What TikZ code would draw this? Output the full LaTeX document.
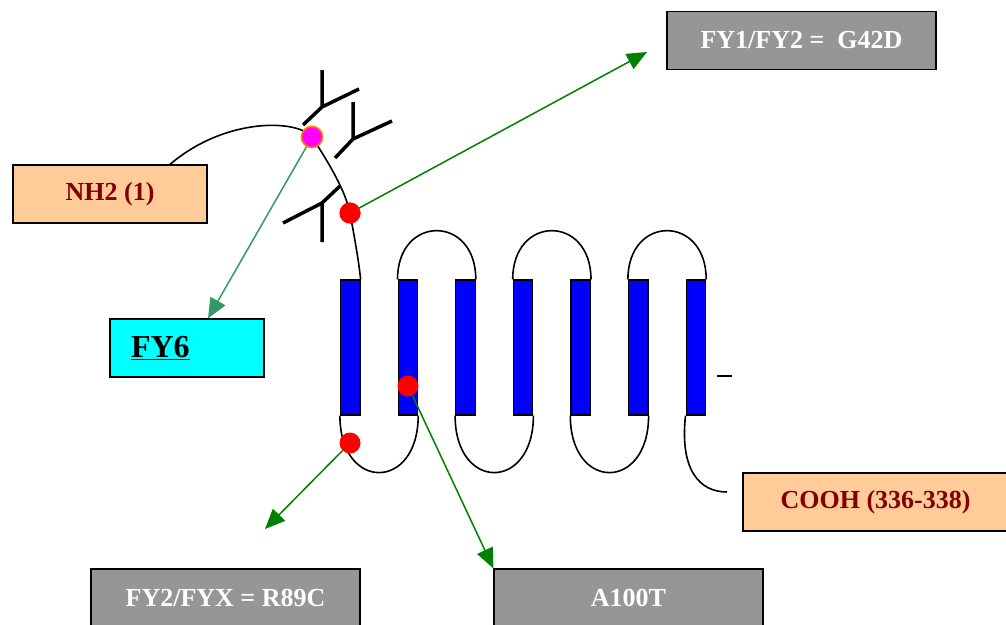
\documentclass[tikz,border=0pt]{standalone}
\usepackage{fontspec}
\setmainfont{Liberation Serif}
\usetikzlibrary{arrows.meta}
\definecolor{boxgray}{HTML}{969696}
\definecolor{peach}{HTML}{FFCC99}
\definecolor{darkred}{HTML}{800000}
\definecolor{mutgreen}{HTML}{008000}
\definecolor{seagreen}{HTML}{339966}
\definecolor{rimorange}{HTML}{FF8000}
\definecolor{aqua}{HTML}{00FFFF}
\definecolor{pink}{HTML}{FF00FF}
\definecolor{tmblue}{HTML}{0000FF}
\definecolor{sitered}{HTML}{FF0000}

\begin{document}
\begin{tikzpicture}[x=1pt, y=-1pt,
		tagbox/.style={draw, line width=1.2pt, minimum width=269pt, minimum height=58pt,
			inner sep=0pt, font=\fontsize{26}{30}\selectfont\bfseries},
		mutation/.style={tagbox, fill=boxgray, text=white},
		terminus/.style={tagbox, fill=peach, text=darkred},
		helix/.style={draw, line width=1.2pt, fill=tmblue, minimum width=19.5pt,
			minimum height=135pt, inner sep=0pt},
		strand/.style={line width=1.6pt},
		site/.style={circle, fill=sitered, minimum size=21pt, inner sep=0pt},
		glyco/.style={line width=3.5pt},
		pointer/.style={line width=1.5pt, mutgreen, -{Triangle[length=20pt,width=17pt]}}]
		\useasboundingbox (0,0) rectangle (1006,624);
		\clip (0,0) rectangle (1006,624);

		% seven transmembrane helices
		\foreach \n in {1,...,7}
			\node[helix] (h\n) at ({292.65+57.6*\n},347.5) {};

		% loops
		\draw[strand] (h2.north west) .. controls +(0,-65) and +(0,-65) .. (h3.north east);
		\draw[strand] (h4.north west) .. controls +(0,-65) and +(0,-65) .. (h5.north east);
		\draw[strand] (h6.north west) .. controls +(0,-65) and +(0,-65) .. (h7.north east);
		\draw[strand] (h1.south west) .. controls +(0,76) and +(0,76) .. (h2.south east);
		\draw[strand] (h3.south west) .. controls +(0,76) and +(0,76) .. (h4.south east);
		\draw[strand] (h5.south west) .. controls +(0,76) and +(0,76) .. (h6.south east);
		\coordinate (cend) at (727,492);
		\draw[strand] (h7.south west) .. controls +(-6,55) and +(-27,0) .. (cend);
		\draw[line width=1.2pt] (717,376) -- (732,376);

		% labels
		\node[mutation] (fy12) at (801.5,40.5) {FY1/FY2 =\ \ G42D};
		\node[terminus, minimum width=194pt] (nh2) at (110,194) {NH2 (1)};
		\node[draw, line width=1.2pt, fill=aqua, minimum height=58pt, text width=112pt,
			inner xsep=21pt, inner ysep=0pt, align=left,
			font=\fontsize{32}{36}\selectfont\bfseries] (fy6) at (187,348) {\underline{FY6}};
		\node[terminus, minimum width=265pt] (cooh) at (875.5,502) {COOH (336-338)};
		\node[mutation] (fy2x) at (225.5,598) {FY2/FYX = R89C};
		\node[mutation] (a100) at (628.5,598) {A100T};

		% sites
		\node[site] (g42d) at (350,213) {};
		\node[site, fill=pink, draw=rimorange, line width=1.5pt] (nterm) at (312,137) {};
		\node[site] (r89c) at (350,443) {};
		\node[site] (a100t) at (408,386) {};

		% N-terminal strand
		\draw[strand] (h1.north east) .. controls +(-2,-20) and +(4,22) .. (g42d.center)
			.. controls +(-5,-23) and +(18,28) .. (nterm.center)
			.. controls +(-15,-18) and +(55,-47) .. ([xshift=60pt]nh2.north);
		\fill[sitered] (g42d) circle (10.5pt);
		\fill[pink] (nterm) circle (10.5pt);
		\draw[rimorange, line width=1.5pt] (nterm) circle (10.5pt);

		% glycosylation
		\draw[glyco] (322,70) -- (322,107) -- (303,125) (322,107) -- (359,89);
		\draw[glyco] (353,102) -- (353,139) -- (335,158) (353,139) -- (392,121);
		\draw[glyco] (322,242) -- (322,203) -- (340,186) (322,203) -- (283,223);

		% mutations
		\coordinate (tipA) at (647,52);
		\coordinate (tipB) at (265,529);
		\draw[pointer] (g42d) -- (tipA);
		\draw[pointer, seagreen] (nterm) -- ([xshift=21pt]fy6.north);
		\draw[pointer] (r89c) -- (tipB);
		\draw[pointer] (a100t) -- (a100.north west);
	\end{tikzpicture}
\end{document}
